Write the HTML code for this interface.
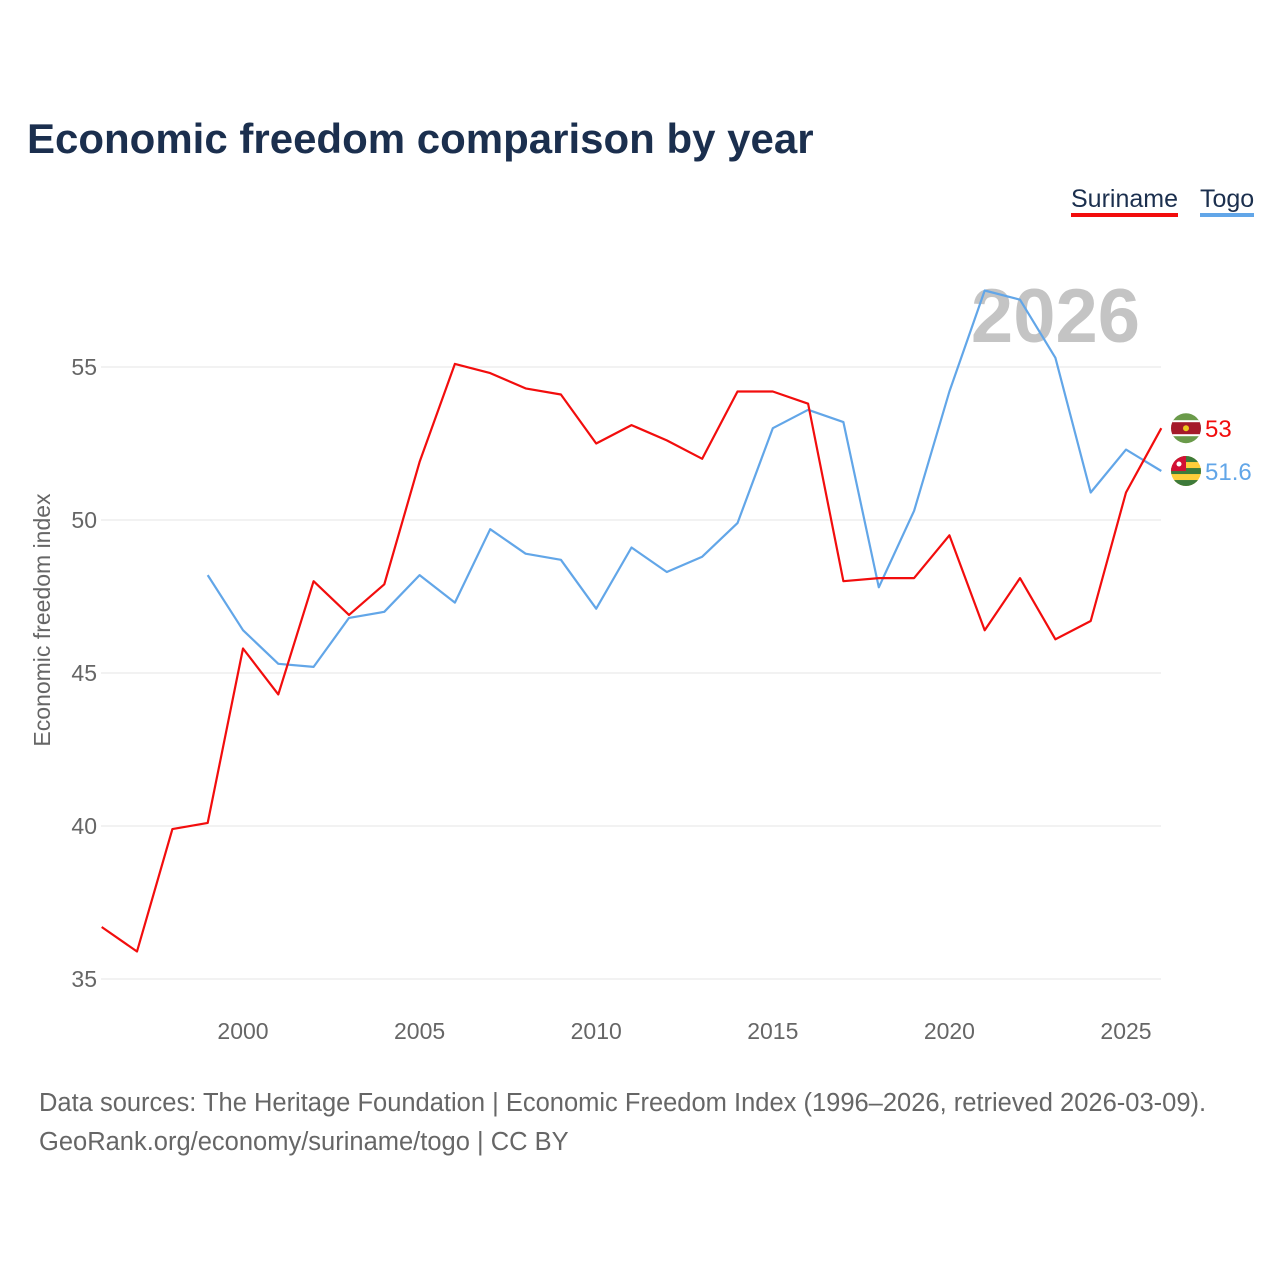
<!DOCTYPE html>
<html><head><meta charset="utf-8"><style>
body{margin:0;background:#fff;font-family:"Liberation Sans",sans-serif;}
#wrap{position:relative;width:1280px;height:1280px;overflow:hidden}
</style></head><body>
<div id="wrap">
<svg id="chart" width="1280" height="1280"></svg>
</div>
<script>
const years=[1996,1997,1998,1999,2000,2001,2002,2003,2004,2005,2006,2007,2008,2009,2010,2011,2012,2013,2014,2015,2016,2017,2018,2019,2020,2021,2022,2023,2024,2025,2026];
const suriname=[36.7,35.9,39.9,40.1,45.8,44.3,48.0,46.9,47.9,51.9,55.1,54.8,54.3,54.1,52.5,53.1,52.6,52.0,54.2,54.2,53.8,48.0,48.1,48.1,49.5,46.4,48.1,46.1,46.7,50.9,53.0];
const togo=[null,null,null,48.2,46.4,45.3,45.2,46.8,47.0,48.2,47.3,49.7,48.9,48.7,47.1,49.1,48.3,48.8,49.9,53.0,53.6,53.2,47.8,50.3,54.2,57.5,57.2,55.3,50.9,52.3,51.6];
const yTicks=[35,40,45,50,55];
const xTicks=[2000,2005,2010,2015,2020,2025];

const NS="http://www.w3.org/2000/svg";
const svg=document.getElementById('chart');
const x=y=>243+(y-2000)*(883/25);
const yS=v=>979-(v-35)*30.6;
function mk(t,a,parent){const e=document.createElementNS(NS,t);for(const k in a)e.setAttribute(k,a[k]);(parent||svg).appendChild(e);return e;}
function txt(s,a){const e=mk('text',a);e.textContent=s;return e;}

let t=txt('Economic freedom comparison by year',{x:27,y:153,'font-size':42,'font-weight':'bold',fill:'#1b2f4e'});



yTicks.forEach(v=>{
 const l=mk('line',{x1:101,x2:1161,y1:yS(v),y2:yS(v),stroke:'#e6e6e6','stroke-width':1});
 
 
 const e=txt(v,{x:97,y:yS(v)+8,'text-anchor':'end','font-size':23,fill:'#666'});
 
 
});
xTicks.forEach(v=>{
 const e=txt(v,{x:x(v),y:1039,'text-anchor':'middle','font-size':23,fill:'#666'});
 
 
});
t=txt('Economic freedom index',{x:0,y:0,'font-size':23,fill:'#666','text-anchor':'middle',transform:'translate(50,620) rotate(-90)'});



t=txt('2026',{x:1140,y:342,'text-anchor':'end','font-size':76,'font-weight':'bold',fill:'#c4c4c4'});



function line(data,color,name){
 let d='';data.forEach((v,i)=>{if(v==null)return;d+=(d?'L':'M')+x(years[i]).toFixed(1)+','+yS(v).toFixed(1);});
 const p=mk('path',{d:d,fill:'none',stroke:color,'stroke-width':2.2,'stroke-linejoin':'round'});
 
 
}
line(togo,'#62a6e8','togo-line');
line(suriname,'#f20d0d','suriname-line');

const sy=yS(suriname[suriname.length-1]), ty=yS(togo[togo.length-1]);
const defs=mk('defs',{});
const c1=mk('clipPath',{id:'c1'},defs);mk('circle',{cx:1186,cy:sy,r:15},c1);
const c2=mk('clipPath',{id:'c2'},defs);mk('circle',{cx:1186,cy:ty,r:15},c2);
let g=mk('g',{'clip-path':'url(#c1)'});


mk('rect',{x:1170,y:sy-16,width:32,height:32,fill:'#6a9a4a'},g);
mk('rect',{x:1170,y:sy-8,width:32,height:16,fill:'#fff'},g);
mk('rect',{x:1170,y:sy-6,width:32,height:12,fill:'#a51a2a'},g);
mk('circle',{cx:1186,cy:sy,r:3,fill:'#ecc81d'},g);
g=mk('g',{'clip-path':'url(#c2)'});


mk('rect',{x:1170,y:ty-16,width:32,height:32,fill:'#ffce3a'},g);
mk('rect',{x:1170,y:ty-16,width:32,height:7,fill:'#3d7a3a'},g);
mk('rect',{x:1170,y:ty-3,width:32,height:6,fill:'#3d7a3a'},g);
mk('rect',{x:1170,y:ty+9,width:32,height:7,fill:'#3d7a3a'},g);
mk('rect',{x:1170,y:ty-16,width:16,height:16,fill:'#d21034'},g);
mk('circle',{cx:1179,cy:ty-7,r:2.5,fill:'#fff'},g);
t=txt(suriname[suriname.length-1],{x:1205,y:sy+9,'font-size':24,fill:'#f20d0d'});


t=txt(togo[togo.length-1],{x:1205,y:ty+9,'font-size':24,fill:'#62a6e8'});



t=txt('Suriname',{x:1071,y:207,'font-size':25,fill:'#1b2f4e'});


let r=mk('rect',{x:1071,y:213,width:107,height:4,fill:'#f20d0d'});


t=txt('Togo',{x:1200,y:207,'font-size':25,fill:'#1b2f4e'});


r=mk('rect',{x:1200,y:213,width:54,height:4,fill:'#62a6e8'});



t=txt('Data sources: The Heritage Foundation | Economic Freedom Index (1996–2026, retrieved 2026-03-09).',{x:39,y:1111,'font-size':25.5,fill:'#666'});


t=txt('GeoRank.org/economy/suriname/togo | CC BY',{x:39,y:1150,'font-size':25.5,fill:'#666'});


</script>
</body></html>
